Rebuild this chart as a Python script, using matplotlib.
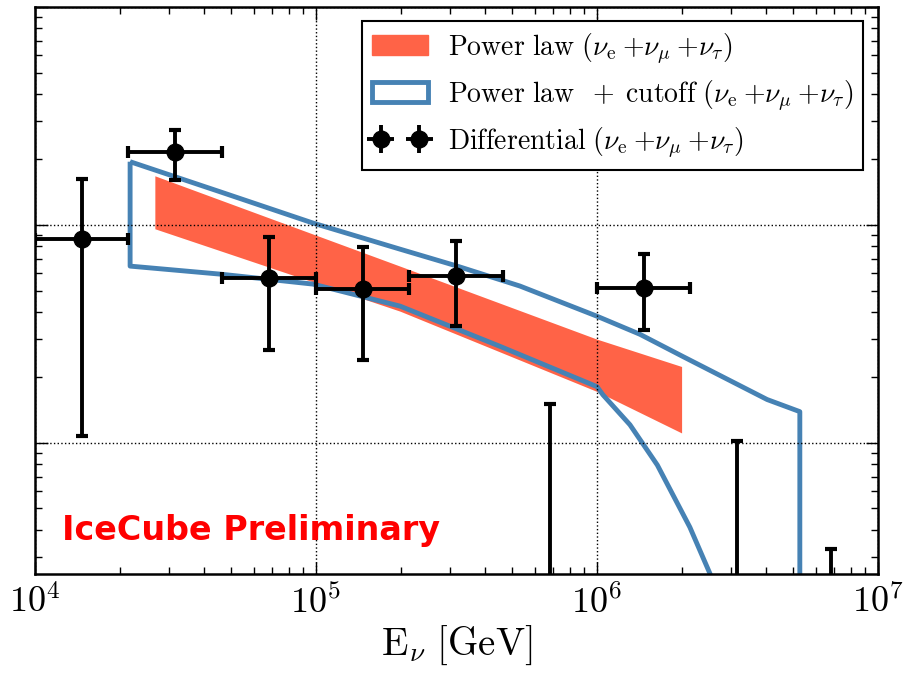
import numpy as np
import matplotlib
matplotlib.use('Agg')
import matplotlib.pyplot as plt
from matplotlib.patches import Patch

plt.rcParams['mathtext.fontset'] = 'cm'
plt.rcParams['font.family'] = ['DejaVu Sans']

# differential flux points (E in GeV, E^2 flux in GeV cm^-2 s^-1 sr^-1)
diff_E = [1.47e4, 3.16e4, 6.81e4, 1.47e5, 3.16e5, 1.47e6]
diff_Elo = [1.0e4, 2.15e4, 4.64e4, 1.0e5, 2.15e5, 1.0e6]
diff_Ehi = [2.15e4, 4.64e4, 1.0e5, 2.15e5, 4.64e5, 2.15e6]
diff_F = [8.6e-8, 2.17e-7, 5.7e-8, 5.07e-8, 5.82e-8, 5.13e-8]
diff_Fhi = [1.63e-7, 2.74e-7, 8.8e-8, 7.9e-8, 8.4e-8, 7.35e-8]
diff_Flo = [1.07e-8, 1.61e-7, 2.68e-8, 2.41e-8, 3.43e-8, 3.28e-8]

# upper limits
ul_E = [6.81e5, 3.16e6, 6.81e6]
ul_F = [1.51e-8, 1.02e-8, 3.25e-9]

# power law band
pl_E = [2.67e4, 1.99e5, 1.0e6, 2.0e6]
pl_top = [1.68e-7, 6.47e-8, 2.99e-8, 2.24e-8]
pl_bot = [9.6e-8, 4.02e-8, 1.72e-8, 1.11e-8]

# power law + cutoff contour
cut_up_E = [2.18e4, 4.55e4, 9.75e4, 1.99e5, 3.18e5, 5.32e5, 1.0e6, 1.42e6, 2.02e6, 4.03e6, 5.27e6]
cut_up_F = [1.95e-7, 1.42e-7, 1.02e-7, 7.74e-8, 6.47e-8, 5.24e-8, 3.81e-8, 3.15e-8, 2.49e-8, 1.58e-8, 1.39e-8]
cut_lo_E = [2.18e4, 4.59e4, 9.75e4, 1.99e5, 4.52e5, 1.0e6, 1.05e6, 1.31e6, 1.64e6,
            2.14e6, 2.52e6, 2.97e6]
cut_lo_F = [6.47e-8, 5.94e-8, 5.35e-8, 4.24e-8, 2.77e-8, 1.81e-8, 1.66e-8, 1.21e-8,
            7.9e-9, 4.1e-9, 2.52e-9, 1.45e-9]

xticks = [1e4, 1e5, 1e6, 1e7]
xtick_labels = [r'$10^{4}$', r'$10^{5}$', r'$10^{6}$', r'$10^{7}$']

lab = r'\ (\nu_\mathrm{e}\:+\nu_\mu\:+\nu_\tau)$'
labels = [r'$\mathrm{Power\ law}' + lab,
          r'$\mathrm{Power\ law}\;\;+\;\mathrm{cutoff}' + lab,
          r'$\mathrm{Differential}' + lab]

red = '#ff6347'
blue = '#4682b4'

fig = plt.figure(figsize=(9.17, 6.75), dpi=100)
ax = fig.add_axes([35 / 917, 101 / 675, 843 / 917, 567 / 675])
ax.set_xscale('log')
ax.set_yscale('log')

ax.fill_between(pl_E, pl_bot, pl_top, color=red, lw=0, zorder=1)

poly_E = cut_up_E + [cut_up_E[-1]] + cut_lo_E[::-1]
poly_F = cut_up_F + [1e-10] + cut_lo_F[::-1]
ax.fill(poly_E, poly_F, facecolor='none', edgecolor=blue, lw=3.5, zorder=2,
        joinstyle='round')

E = np.array(diff_E)
F = np.array(diff_F)
xerr = [E - np.array(diff_Elo), np.array(diff_Ehi) - E]
yerr = [F - np.array(diff_Flo), np.array(diff_Fhi) - F]
ax.errorbar(E, F, xerr=xerr, yerr=yerr, fmt='o', color='k', ms=12,
            elinewidth=2.8, capsize=4.3, capthick=3, zorder=4)

ulE = np.array(ul_E)
ulF = np.array(ul_F)
ax.errorbar(ulE, ulF, yerr=[ulF - 1e-12, np.zeros_like(ulF)], fmt='none',
            ecolor='k', elinewidth=2.8, capsize=4.3, capthick=3, zorder=4)

ax.set_xlim(1e4, 1e7)
ax.set_ylim(2.5e-9, 1e-6)
ax.set_axisbelow(False)
ax.grid(True, which='major', color='k', ls=':', lw=1.0, zorder=3)

ax.set_xticks(xticks)
ax.set_xticklabels(xtick_labels, fontsize=26)
ax.tick_params(which='both', direction='in', top=True, right=True, width=1.0)
ax.tick_params(which='major', length=9, pad=8)
ax.tick_params(which='minor', length=5)
ax.tick_params(axis='y', which='both', labelleft=False)
for s in ax.spines.values():
    s.set_linewidth(1.8)

ax.set_xlabel(r'$\mathrm{E}_\nu\ [\mathrm{GeV}]$', fontsize=28, labelpad=2)

ax.text(0.032, 0.06, 'IceCube Preliminary', transform=ax.transAxes, color='red',
        fontsize=24, fontweight='bold', family='DejaVu Sans')

h_pl = Patch(facecolor=red, edgecolor=red)
h_cut = Patch(facecolor='white', edgecolor=blue, lw=3.5)
h_diff = ax.errorbar([], [], xerr=[], yerr=[], fmt='o', color='k', ms=12,
                     elinewidth=2.8, capsize=4.3, capthick=3)
leg = ax.legend([h_pl, h_cut, h_diff], labels, loc='upper right',
                bbox_to_anchor=(863 / 917, 1 - 21 / 675), bbox_transform=fig.transFigure,
                borderaxespad=0, fontsize=20, numpoints=2, handlelength=2.0,
                handletextpad=0.72, borderpad=0.36, labelspacing=0.45,
                fancybox=False, framealpha=1)
leg.get_frame().set_edgecolor('k')
leg.get_frame().set_linewidth(1.5)
leg.set_zorder(10)

fig.savefig('out.png', dpi=100)
